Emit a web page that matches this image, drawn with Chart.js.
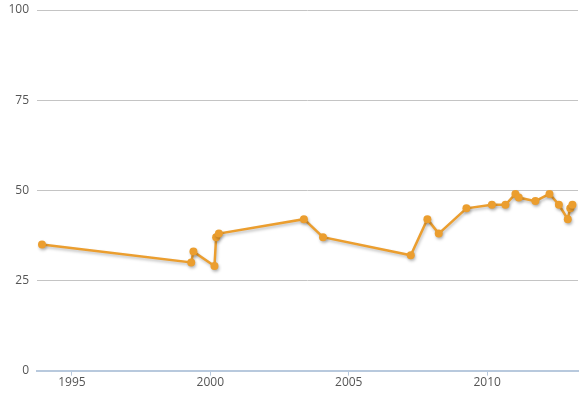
<!DOCTYPE html>
<html>
<head>
<meta charset="utf-8">
<script src="https://cdn.jsdelivr.net/npm/chart.js@4"></script>
<style>
  html, body { margin: 0; padding: 0; background: #fff; }
  #wrap { width: 583px; height: 397px; }
</style>
</head>
<body>
<div id="wrap"><canvas id="myChart"></canvas></div>
<script>
// valeurs
const years = [1993.92, 1999.31, 1999.39, 2000.15, 2000.21, 2000.31, 2003.38, 2004.07,
  2007.24, 2007.84, 2008.25, 2009.25, 2010.17, 2010.66, 2011.02, 2011.14, 2011.74,
  2012.25, 2012.59, 2012.91, 2013.0, 2013.08];
const values = [35, 30, 33, 29, 37, 38, 42, 37, 32, 42, 38, 45, 46, 46, 49, 48, 47,
  49, 46, 42, 45, 46];
const xTicks = [1995, 2000, 2005, 2010];
const yTicks = [0, 25, 50, 75, 100];

const points = years.map((y, i) => ({ x: y, y: values[i] }));

// ombre sous la ligne
const shadowPlugin = {
  id: 'shadow',
  beforeDatasetDraw(chart) {
    const c = chart.ctx;
    c.save();
    c.shadowColor = 'rgba(0,0,0,0.25)';
    c.shadowBlur = 3;
    c.shadowOffsetX = 1;
    c.shadowOffsetY = 2;
  },
  afterDatasetDraw(chart) {
    chart.ctx.restore();
  }
};

const ctx = document.getElementById('myChart').getContext('2d');
const myChart = new Chart(ctx, {
  type: 'line',
  data: {
    datasets: [{
      data: points,
      borderColor: '#eb9e2f',
      backgroundColor: '#eb9e2f',
      borderWidth: 2.5,
      pointRadius: 4,
      pointBorderWidth: 0,
      tension: 0,
      fill: false
    }]
  },
  plugins: [shadowPlugin],
  options: {
    responsive: true,
    maintainAspectRatio: false,
    animation: false,
    layout: { padding: { left: 0, right: 5, top: 10, bottom: 7 } },
    plugins: {
      legend: { display: false },
      tooltip: { enabled: false }
    },
    scales: {
      x: {
        type: 'linear',
        min: 1993.74,
        max: 2013.28,
        afterBuildTicks: s => { s.ticks = xTicks.map(v => ({ value: v })); },
        afterFit: s => { s.paddingLeft = 0; s.paddingRight = 0; },
        grid: {
          display: true,
          drawOnChartArea: false,
          drawTicks: true,
          tickLength: 5,
          color: '#b8c9dd'
        },
        border: { color: '#b8c9dd', width: 2 },
        ticks: {
          color: '#555',
          font: { family: 'Open Sans', size: 12 },
          padding: 0,
          maxRotation: 0,
          callback: v => String(v)
        }
      },
      y: {
        min: 0,
        max: 100,
        afterBuildTicks: s => { s.ticks = yTicks.map(v => ({ value: v })); },
        afterFit: s => { s.width = 37; s.paddingTop = 0; s.paddingBottom = 0; },
        grid: {
          color: '#c4c4c4',
          drawTicks: false
        },
        border: { display: false },
        ticks: {
          color: '#555',
          font: { family: 'Open Sans', size: 12 },
          padding: 8
        }
      }
    }
  }
});
</script>
</body>
</html>
